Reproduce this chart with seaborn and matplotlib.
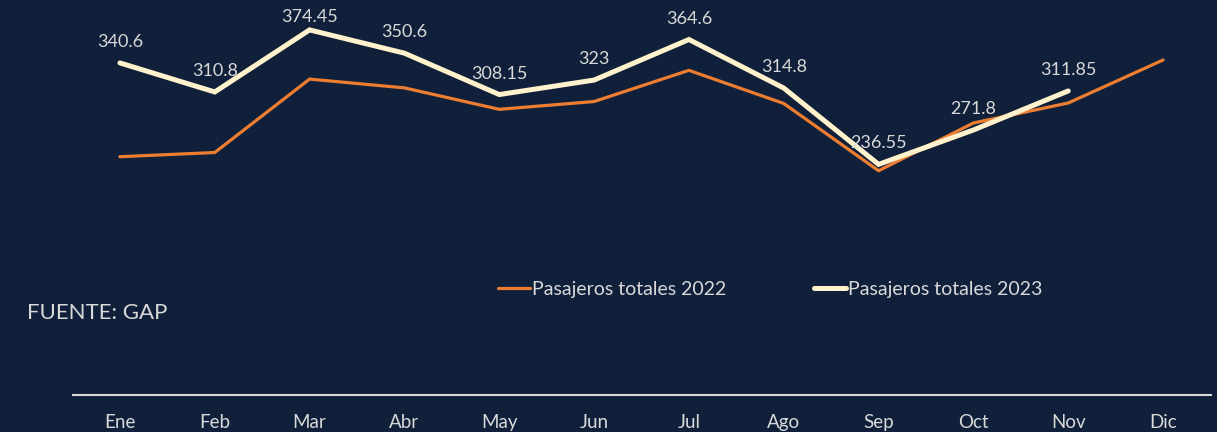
import pandas as pd
import matplotlib
matplotlib.use("Agg")
import matplotlib.pyplot as plt
import seaborn as sns

meses = ["Ene", "Feb", "Mar", "Abr", "May", "Jun", "Jul", "Ago", "Sep", "Oct", "Nov", "Dic"]
pasajeros_2022 = [244.4, 248.7, 324, 315, 293, 301, 333, 299, 230, 279, 299.5, 343.6]
pasajeros_2023 = [340.6, 310.8, 374.45, 350.6, 308.15, 323, 364.6, 314.8, 236.55, 271.8, 311.85]
etiquetas_2023 = ["340.6", "310.8", "374.45", "350.6", "308.15", "323", "364.6",
                  "314.8", "236.55", "271.8", "311.85"]

fondo = "#10203A"
gris = "#D9D9D9"
naranja = "#ED7D31"
crema = "#FFF2CC"

sns.set_theme(style="white")
plt.rcParams["font.family"] = ["Lato", "DejaVu Sans"]

df = pd.DataFrame({
    "idx": list(range(12)) * 2,
    "valor": pasajeros_2022 + pasajeros_2023 + [None],
    "serie": ["Pasajeros totales 2022"] * 12 + ["Pasajeros totales 2023"] * 12,
})

fig = plt.figure(figsize=(12.17, 4.32), dpi=100, facecolor=fondo)
ax = fig.add_axes([72.5 / 1217, 37 / 432, 1138 / 1217, 390 / 432])
ax.set_facecolor(fondo)

sns.lineplot(data=df[df["serie"] == "Pasajeros totales 2022"], x="idx", y="valor",
             color=naranja, linewidth=2.3, ax=ax, legend=False,
             label="Pasajeros totales 2022")
sns.lineplot(data=df[df["serie"] == "Pasajeros totales 2023"].dropna(), x="idx", y="valor",
             color=crema, linewidth=3.6, ax=ax, legend=False,
             label="Pasajeros totales 2023")
for ln in ax.lines:
    ln.set_solid_capstyle("round")
    ln.set_solid_joinstyle("miter")

ax.set_xlim(-0.5, 11.5)
ax.set_ylim(0, 400)

# etiquetas encima de la linea, sin salirse por arriba
alto = fig.get_size_inches()[1] * fig.dpi
for i, (v, t) in enumerate(zip(pasajeros_2023, etiquetas_2023)):
    desde_arriba = alto - ax.transData.transform((i, v))[1]
    off_px = min(21, desde_arriba - 16.5)
    ax.annotate(t, (i, v), xytext=(0, off_px * 72 / fig.dpi), textcoords="offset points",
                ha="center", va="center", color=gris, fontsize=13)

ax.set_xticks(range(12))
ax.set_xticklabels(meses, color=gris, fontsize=13.5)
ax.set_yticks([])
ax.set_xlabel("")
ax.set_ylabel("")
ax.tick_params(axis="x", length=0, pad=14)
for s in ["top", "right", "left"]:
    ax.spines[s].set_visible(False)
ax.spines["bottom"].set_color(gris)
ax.spines["bottom"].set_linewidth(1.5)

handles, labels = ax.get_legend_handles_labels()
leg = fig.legend(handles, labels, loc="center", bbox_to_anchor=(770 / 1217, 1 - 289 / 432),
                 ncol=2, frameon=False, fontsize=14, handlelength=1.65,
                 handletextpad=0.1, columnspacing=4.5)
for txt in leg.get_texts():
    txt.set_color(gris)

fig.text(27 / 1217, 1 - 313 / 432, "FUENTE: GAP", color=gris, fontsize=16,
         ha="left", va="center")

fig.savefig("out.png", dpi=100, facecolor=fondo)
